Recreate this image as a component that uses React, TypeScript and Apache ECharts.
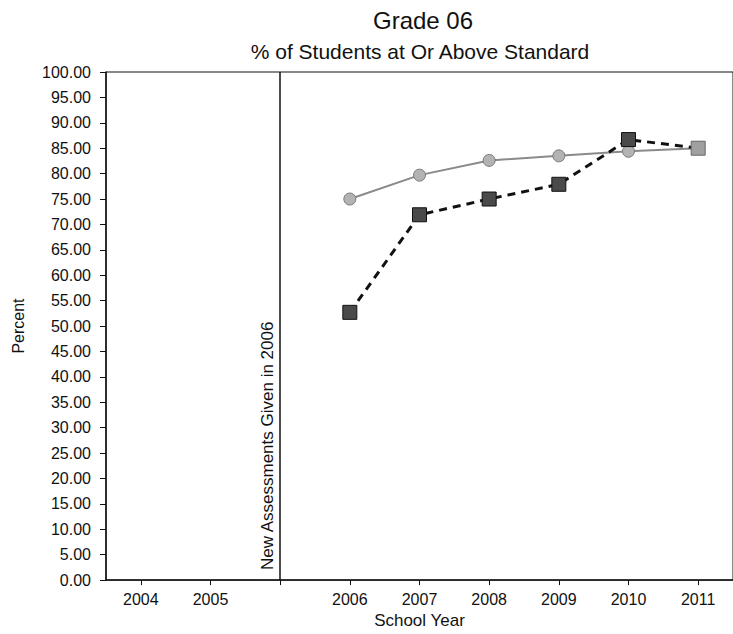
import React, { useEffect, useRef } from "react";
import * as echarts from "echarts";

const categories = ["2004", "2005", "", "2006", "2007", "2008", "2009", "2010", "2011"];
const stateValues = [null, null, null, 75.0, 79.7, 82.6, 83.5, 84.4, 85.0];
const schoolValues = [null, null, null, 52.7, 71.9, 75.0, 77.9, 86.7, 85.0];
const separatorIndex = 2;
const separatorLabel = "New Assessments Given in 2006";
const titleText = "Grade 06";
const subtitleText = "% of Students at Or Above Standard";

export default function App() {
  const ref = useRef<HTMLDivElement>(null);
  useEffect(() => {
    if (!ref.current) return;
    const chart = echarts.init(ref.current, null, { renderer: "svg" });
    const font = "'Liberation Sans', Arial, sans-serif";
    const lastIdx = schoolValues.length - 1;
    chart.setOption({
      animation: false,
      backgroundColor: "#fff",
      title: [
        {
          text: titleText,
          left: 418,
          top: 3,
          textAlign: "center",
          textStyle: { fontFamily: font, fontSize: 24, fontWeight: "normal", color: "#111" },
        },
        {
          text: subtitleText,
          left: 415,
          top: 36,
          textAlign: "center",
          textStyle: { fontFamily: font, fontSize: 21, fontWeight: "normal", color: "#111" },
        },
      ],
      grid: {
        left: 106,
        top: 72,
        width: 633,
        height: 515,
        show: true,
        borderColor: "#111",
        borderWidth: 1,
        backgroundColor: "transparent",
      },
      xAxis: {
        type: "category",
        data: categories,
        boundaryGap: true,
        name: "School Year",
        nameLocation: "middle",
        nameGap: 28,
        nameTextStyle: { fontFamily: font, fontSize: 17, color: "#111" },
        axisLine: { show: true, lineStyle: { color: "#111", width: 1.5 } },
        axisTick: { show: true, alignWithLabel: true, interval: 0, length: 5, lineStyle: { color: "#111" } },
        axisLabel: { interval: 0, fontFamily: font, fontSize: 16, color: "#111", margin: 11 },
        splitLine: { show: false },
      },
      yAxis: {
        type: "value",
        min: 0,
        max: 100,
        interval: 5,
        name: "Percent",
        nameLocation: "middle",
        nameGap: 80,
        nameRotate: 90,
        nameTextStyle: { fontFamily: font, fontSize: 16, color: "#111" },
        axisLine: { show: true, lineStyle: { color: "#111", width: 1.5 } },
        axisTick: { show: true, length: 6, lineStyle: { color: "#111" } },
        axisLabel: {
          fontFamily: font,
          fontSize: 16,
          color: "#111",
          margin: 15,
          formatter: (v: number) => v.toFixed(2),
        },
        splitLine: { show: false },
      },
      series: [
        {
          name: "State",
          type: "line",
          data: stateValues,
          symbol: "circle",
          symbolSize: 12,
          itemStyle: { color: "#b3b3b3", borderColor: "#7a7a7a", borderWidth: 1 },
          lineStyle: { color: "#8a8a8a", width: 2 },
          z: 2,
          markLine: {
            silent: true,
            symbol: ["none", "none"],
            lineStyle: { color: "#111", width: 1.5, type: "solid" },
            label: {
              show: true,
              position: "insideStartTop",
              formatter: separatorLabel,
              fontFamily: font,
              fontSize: 17,
              color: "#111",
              distance: [10, 4],
            },
            data: [{ xAxis: separatorIndex }],
          },
        },
        {
          name: "School",
          type: "line",
          data: schoolValues.map((v, i) =>
            i === lastIdx ? { value: v, itemStyle: { color: "#a0a0a0", borderColor: "#666" } } : v
          ),
          symbol: "rect",
          symbolSize: 14,
          itemStyle: { color: "#4a4a4a", borderColor: "#111", borderWidth: 1 },
          lineStyle: { color: "#111", width: 3, type: [8, 6] },
          z: 3,
        },
      ],
    });
    return () => chart.dispose();
  }, []);
  return (
    <div
      ref={ref}
      style={{ position: "fixed", left: 0, top: 0, width: 733, height: 634, background: "#fff" }}
    />
  );
}
